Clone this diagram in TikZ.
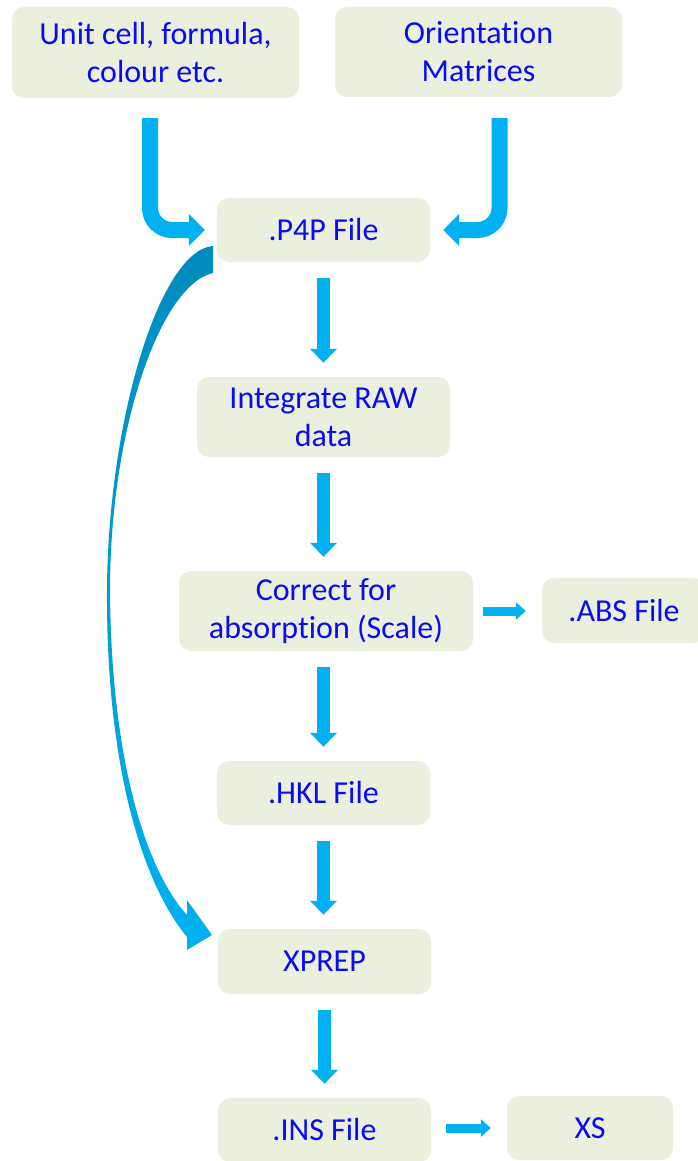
\documentclass[tikz,border=0pt]{standalone}
\usepackage{fontspec}
\setmainfont{Carlito}[Ligatures=NoCommon]
\usepackage{tikz}
\usetikzlibrary{calc,arrows.meta}
\definecolor{boxfill}{RGB}{235,240,222}
\definecolor{arrowblue}{RGB}{0,176,240}
\definecolor{arrowdark}{RGB}{0,140,190}
\definecolor{textblue}{RGB}{10,10,245}
\tikzset{
  box/.style={fill=boxfill, rounded corners=12pt, text=textblue, align=center,
    inner sep=0pt, font=\fontsize{32}{38}\selectfont},
  flow/.style={draw=arrowblue, line width=13pt,
    -{Triangle[width=26pt,length=14pt]}, shorten <=16pt, shorten >=14pt},
  elbow/.style={draw=arrowblue, line width=16pt, rounded corners=22pt,
    -{Triangle[width=31pt,length=16pt]}},
  side/.style={draw=arrowblue, line width=9pt,
    -{Triangle[width=17pt,length=10pt]}, shorten <=10pt, shorten >=16pt}
}

\begin{document}
\begin{tikzpicture}[x=1pt, y=-1pt]
  \useasboundingbox (0,0) rectangle (698,1161);

  \node[box, minimum width=287pt, minimum height=91pt]
    (unit) at (155.5, 52.5) {Unit cell, formula,\\colour etc.};

  \node[box, minimum width=287pt, minimum height=90pt]
    (orient) at (478.5, 52) {Orientation\\Matrices};

  \node[box, minimum width=213pt, minimum height=64pt]
    (p4p) at (323.5, 230) {.P4P File};

  \node[box, minimum width=253pt, minimum height=80pt]
    (integ) at (323.5, 417) {Integrate RAW\\data};

  \node[box, minimum width=294pt, minimum height=80pt]
    (corr) at (326, 611) {Correct for\\absorption (Scale)};

  \node[box, minimum width=164pt, minimum height=65pt]
    (abs) at (624, 610.5) {.ABS File};

  \node[box, minimum width=213pt, minimum height=64pt]
    (hkl) at (323.5, 793) {.HKL File};

  \node[box, minimum width=213pt, minimum height=65pt]
    (xprep) at (324.5, 961.5) {XPREP};

  \node[box, minimum width=213pt, minimum height=64pt]
    (ins) at (324.5, 1130) {.INS File};

  \node[box, minimum width=166pt, minimum height=64pt]
    (xs) at (590, 1128) {XS};

  % inputs into the .P4P file
  \draw[elbow] ([xshift=-5.5pt, yshift=-20pt]unit.south)
    |- ([xshift=-12pt]p4p.west);
  \draw[elbow] ([xshift=21pt, yshift=-21pt]orient.south)
    |- ([xshift=13pt]p4p.east);

  % main chain
  \draw[flow] (p4p.south) -- (p4p.south |- integ.north);
  \draw[flow] (integ.south) -- (integ.south |- corr.north);
  \draw[flow] (hkl.north |- corr.south) -- (hkl.north);
  \draw[flow] (hkl.south) -- (hkl.south |- xprep.north);
  \draw[flow] (xprep.south) -- (xprep.south |- ins.north);

  \draw[side] (corr.east) -- (corr.east -| abs.west);
  \draw[side, shorten <=15pt] (ins.east |- xs.west) -- (xs.west);

  % bypass from .P4P straight to XPREP
  \shade[top color=arrowdark, bottom color=arrowblue]
    (213,246) .. controls (160,250) and (108,420) .. (107,590)
    .. controls (106,760) and (140,880) .. (187,937)
    -- (187,950) -- (212,935) -- (187,900) -- (187,915)
    .. controls (146,870) and (111,760) .. (110,590)
    .. controls (110,430) and (160,285) .. (213,273) -- cycle;
\end{tikzpicture}
\end{document}
